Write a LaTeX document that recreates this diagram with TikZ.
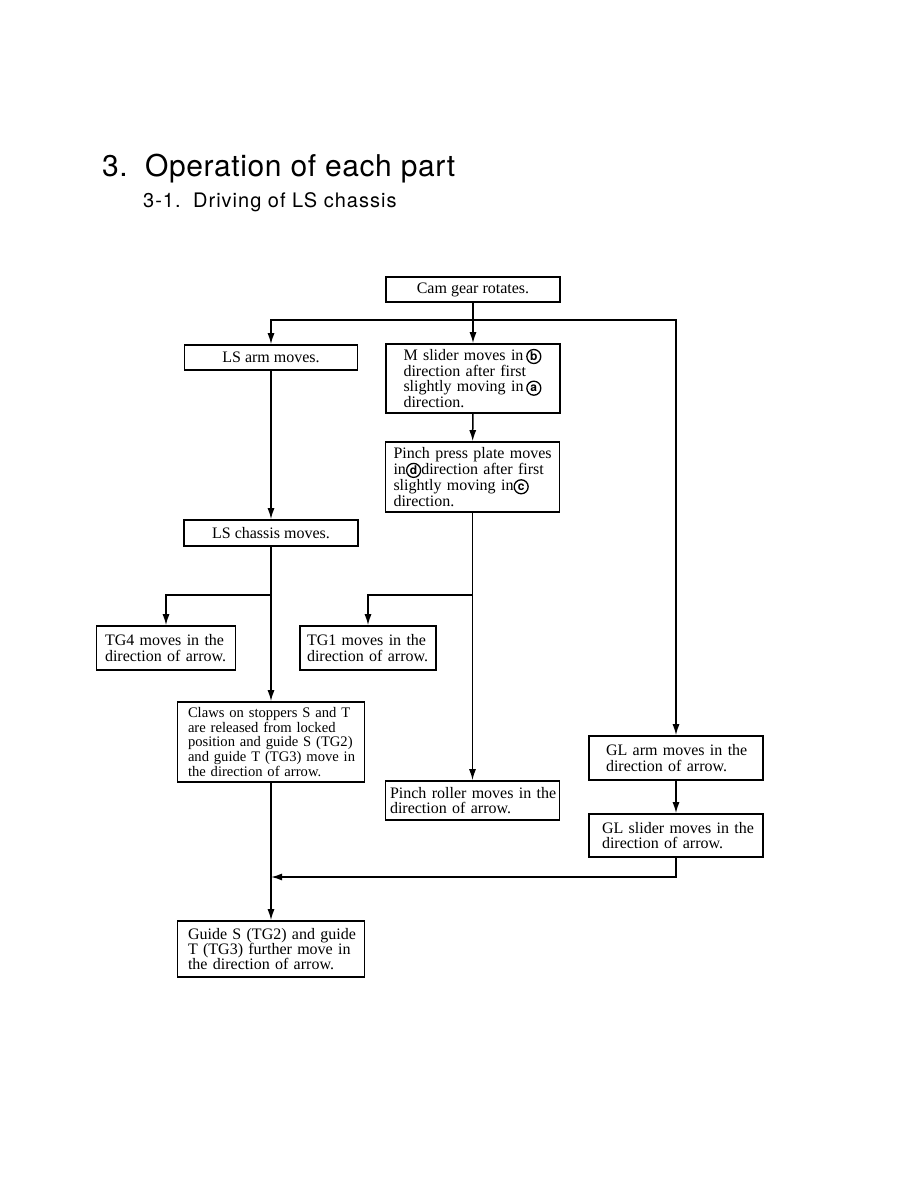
\documentclass[tikz,border=0pt]{standalone}
\usepackage{fontspec}
\setmainfont{Liberation Serif}
\newfontfamily\headfont[LetterSpace=2]{TeX Gyre Heros}
\newfontfamily\circfont{TeX Gyre Heros}
\newfontfamily\subfont[LetterSpace=5]{TeX Gyre Heros}
\usetikzlibrary{arrows.meta}
\newcommand{\bodyfont}{\fontsize{16}{15.3}\selectfont}
\newcommand{\smallbody}{\fontsize{14.6}{14.8}\selectfont}
\newcommand{\Lx}[1]{\mbox{#1}}
\newcommand{\circl}[1]{\tikz[baseline=(c.base)]\node[circle,draw,line width=1.3pt,inner sep=0pt,minimum size=14pt,font=\circfont\bfseries\fontsize{12}{12}\selectfont](c){#1};}
\begin{document}
\begin{tikzpicture}[x=1pt,y=-1pt,
  box/.style={draw,line width=1.6pt,inner sep=0pt,font=\bodyfont},
  lbox/.style={box,align=left},
  arr/.style={-{Latex[length=11pt,width=7pt]},line width=1.5pt}]
\useasboundingbox (0,0) rectangle (918,1188);
% titles
\node[anchor=base west,inner sep=0pt,font=\headfont\fontsize{30}{31}\selectfont] (t1) at (102,176) {3.};
\node[anchor=base west,inner sep=0pt,font=\headfont\fontsize{30}{31}\selectfont] (t2) at (145,176) {Operation of each part};
\node[anchor=base west,inner sep=0pt,font=\subfont\fontsize{20}{22}\selectfont] (s1) at (143,207) {3-1.};
\node[anchor=base west,inner sep=0pt,font=\subfont\fontsize{20}{22}\selectfont] (s2) at (193,207) {Driving of LS chassis};
% boxes
\node[box,minimum width=174pt,minimum height=25pt] (cam) at (473,289.5) {Cam gear rotates.};
\node[box,minimum width=173pt,minimum height=25pt] (lsarm) at (271,357.5) {LS arm moves.};
\node[lbox,minimum width=174pt,minimum height=69pt,text width=139pt] (msl) at (473,378.5)
  {\Lx{M slider moves in\,\circl{b}}\\\Lx{direction after first}\\\Lx{slightly moving in\,\circl{a}}\\\Lx{direction.}};
\node[lbox,minimum width=174pt,minimum height=70pt,text width=158pt] (pinch) at (472.5,477)
  {\Lx{Pinch press plate moves}\\\Lx{in\circl{d}direction after first}\\\Lx{slightly moving in\circl{c}}\\\Lx{direction.}};
\node[box,minimum width=174pt,minimum height=26pt] (lsch) at (271,533) {LS chassis moves.};
\node[lbox,minimum width=139pt,minimum height=44pt,text width=122pt] (tg4) at (166,648)
  {\Lx{TG4 moves in the}\\\Lx{direction of arrow.}};
\node[lbox,minimum width=136pt,minimum height=44pt,text width=122pt] (tg1) at (368,648)
  {\Lx{TG1 moves in the}\\\Lx{direction of arrow.}};
\node[lbox,minimum width=187pt,minimum height=80pt,text width=166pt,font=\smallbody] (claws) at (271,742)
  {\Lx{Claws on stoppers S and T}\\\Lx{are released from locked}\\\Lx{position and guide S (TG2)}\\\Lx{and guide T (TG3) move in}\\\Lx{the direction of arrow.}};
\node[lbox,minimum width=174pt,minimum height=39pt,text width=165pt] (proll) at (472.5,800.5)
  {\Lx{Pinch roller moves in the}\\\Lx{direction of arrow.}};
\node[lbox,minimum width=174pt,minimum height=44pt,text width=140pt] (glarm) at (676,758)
  {\Lx{GL arm moves in the}\\\Lx{direction of arrow.}};
\node[lbox,minimum width=174pt,minimum height=43pt,text width=148pt] (glsl) at (676,835.5)
  {\Lx{GL slider moves in the}\\\Lx{direction of arrow.}};
\node[lbox,minimum width=187pt,minimum height=56pt,text width=166pt] (guide) at (271,949)
  {\Lx{Guide S (TG2) and guide}\\\Lx{T (TG3) further move in}\\\Lx{the direction of arrow.}};
% junctions
\coordinate (j) at (473,320);
\coordinate (b1) at (271,595);
\coordinate (b2) at (472.5,595);
\coordinate (m) at (271,877);
% connectors
\draw[arr] (cam) -- (msl);
\draw[arr] (j) -| (lsarm.north);
\draw[arr] (j) -| (glarm.north);
\draw[arr] (lsarm) -- (lsch);
\draw[arr] (msl) -- (pinch);
\draw[arr] (lsch) -- (claws);
\draw[arr] (b1) -| (tg4.north);
\draw[arr] (pinch) -- (proll);
\draw[arr] (b2) -| (tg1.north);
\draw[arr] (glarm) -- (glsl);
\draw[arr] (claws) -- (guide);
\draw[arr] (glsl.south) |- (m);
\end{tikzpicture}
\end{document}
